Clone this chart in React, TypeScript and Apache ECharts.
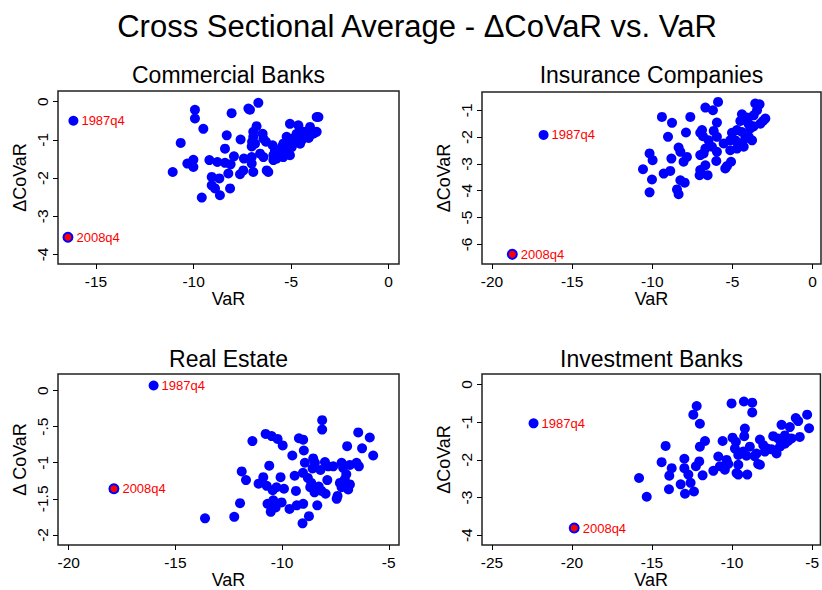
import React, { useEffect, useRef } from "react";
import * as echarts from "echarts";

const FONT = "'Liberation Sans', Arial, Helvetica, sans-serif";

const mainTitle = "Cross Sectional Average - \u0394CoVaR vs. VaR";
const panelTitles = ["Commercial Banks", "Insurance Companies", "Real Estate", "Investment Banks"];
const yNames = ["\u0394CoVaR", "\u0394CoVaR", "\u0394 CoVaR", "\u0394CoVaR"];
const xName = "VaR";
const highlightNames = ["1987q4", "2008q4"];

// [VaR, ΔCoVaR]
const commercialBanks: number[][] = [
  [-9.93, -0.21], [-9.93, -0.44], [-8.05, -0.3], [-7.19, -0.18], [-7.11, -0.21], [-6.68, -0.03],
  [-9.5, -0.71], [-10.66, -1.08], [-8.3, -0.88], [-7.59, -0.99], [-6.77, -0.64], [-6.94, -0.92],
  [-6.46, -0.84], [-6.29, -1.05], [-6.85, -1.1], [-7.02, -1.17], [-8.39, -1.23], [-7.93, -1.43],
  [-7.42, -1.49], [-7.02, -1.45], [-6.59, -1.36], [-6.42, -1.45], [-5.95, -1.14], [-5.83, -1.27],
  [-5.4, -1.1], [-5.06, -0.58], [-4.97, -0.97], [-4.63, -0.62], [-4.72, -0.84], [-4.03, -0.66],
  [-3.69, -0.4], [-3.6, -0.4], [-3.69, -0.79], [-3.86, -0.84], [-4.37, -0.79], [-5.14, -1.05],
  [-4.89, -1.1], [-4.72, -1.01], [-5.23, -1.23], [-5.57, -1.32], [-5.4, -1.45], [-5.74, -1.49],
  [-5.06, -1.4], [-5.91, -1.53], [-6.25, -1.8], [-6.17, -1.84], [-6.94, -1.84], [-7.45, -1.8],
  [-7.62, -1.9], [-8.22, -1.88], [-8.1, -1.64], [-8.39, -1.6], [-8.78, -1.58], [-9.19, -1.53],
  [-10.01, -1.52], [-10.32, -1.62], [-10.01, -1.71], [-11.07, -1.84], [-9.07, -1.97], [-8.68, -2.01],
  [-9.07, -2.19], [-8.9, -2.27], [-8.13, -2.27], [-8.65, -2.45], [-9.58, -2.51], [-7.02, -1.62],
  [-4.54, -1.1], [-4.46, -1.01], [-5.23, -0.92], [-4.97, -1.19], [-5.48, -1.19], [-5.66, -1.4],
  [-5.91, -1.4], [-4.2, -0.88], [-6.94, -0.79], [-6.42, -0.97], [-7.0, -1.05], [-4.1, -0.95]
];
const commercialBanksHi: number[][] = [[-16.16, -0.5], [-16.44, -3.55]];

const insurance: number[][] = [
  [-5.9, -0.69], [-6.69, -0.9], [-6.22, -1.0], [-3.58, -0.75], [-3.31, -0.78], [-9.4, -1.25],
  [-7.63, -1.25], [-8.77, -1.47], [-5.97, -1.46], [-4.41, -1.15], [-4.1, -1.27], [-4.51, -1.4],
  [-3.68, -1.19], [-2.95, -1.31], [-3.26, -1.5], [-3.68, -1.6], [-9.02, -1.99], [-7.9, -1.83],
  [-6.9, -1.74], [-6.84, -1.97], [-6.17, -1.77], [-6.49, -2.12], [-5.97, -1.99], [-5.03, -1.84],
  [-4.72, -1.74], [-4.41, -1.81], [-3.99, -1.99], [-5.14, -2.12], [-5.55, -2.24], [-4.51, -2.24],
  [-3.78, -2.12], [-8.36, -2.39], [-8.25, -2.55], [-7.84, -2.74], [-8.05, -2.92], [-7.01, -2.67],
  [-6.69, -2.43], [-6.28, -2.36], [-5.97, -2.55], [-5.14, -2.49], [-4.72, -2.43], [-4.3, -2.36],
  [-10.17, -2.61], [-9.98, -2.86], [-8.81, -2.8], [-10.58, -3.2], [-9.29, -3.36], [-8.88, -3.26],
  [-10.02, -3.58], [-10.17, -4.06], [-8.25, -3.61], [-7.98, -3.7], [-8.46, -3.95], [-8.36, -4.13],
  [-7.01, -3.23], [-6.69, -3.05], [-6.55, -3.42], [-7.05, -3.42], [-6.01, -2.89], [-5.34, -3.08],
  [-5.09, -2.92], [-5.45, -3.17], [-3.47, -1.0], [-3.89, -1.68], [-4.2, -2.05], [-4.82, -2.12],
  [-7.01, -1.84], [-6.8, -2.61], [-3.1, -1.4], [-4.0, -1.5]
];
const insuranceHi: number[][] = [[-16.78, -1.92], [-18.73, -6.37]];

const realEstate: number[][] = [
  [-8.12, -0.41], [-8.12, -0.54], [-6.43, -0.58], [-5.89, -0.65], [-10.77, -0.6], [-10.49, -0.63],
  [-10.21, -0.67], [-9.97, -0.76], [-11.39, -0.7], [-9.21, -0.66], [-9.01, -0.68], [-8.98, -0.83],
  [-6.95, -0.77], [-6.25, -0.8], [-5.73, -0.9], [-9.52, -0.9], [-8.54, -0.94], [-8.93, -1.0],
  [-8.46, -1.0], [-7.99, -0.99], [-7.6, -1.05], [-7.21, -1.0], [-6.82, -1.03], [-6.51, -1.0],
  [-6.4, -1.05], [-10.6, -1.04], [-8.57, -1.08], [-8.2, -1.1], [-7.84, -1.05], [-7.14, -1.07],
  [-6.99, -1.16], [-7.06, -1.23], [-6.82, -1.3], [-6.9, -1.37], [-7.29, -1.28], [-7.21, -1.34],
  [-11.89, -1.12], [-11.69, -1.24], [-10.88, -1.2], [-10.07, -1.2], [-11.1, -1.29], [-10.72, -1.32],
  [-10.26, -1.34], [-9.91, -1.36], [-10.44, -1.38], [-9.41, -1.18], [-9.02, -1.14], [-8.79, -1.21],
  [-8.63, -1.28], [-8.28, -1.33], [-8.68, -1.34], [-8.48, -1.41], [-8.15, -1.39], [-7.96, -1.43],
  [-7.88, -1.24], [-7.4, -1.46], [-7.44, -1.5], [-9.35, -1.39], [-11.97, -1.56], [-10.68, -1.57],
  [-10.41, -1.52], [-10.02, -1.55], [-10.3, -1.62], [-10.53, -1.68], [-9.65, -1.64], [-9.31, -1.59],
  [-9.01, -1.57], [-8.35, -1.59], [-8.74, -1.74], [-9.04, -1.84], [-12.24, -1.75], [-13.61, -1.77]
];
const realEstateHi: number[][] = [[-16.02, 0.07], [-17.88, -1.36]];

const investmentBanks: number[][] = [
  [-10.03, -0.5], [-9.26, -0.45], [-8.74, -0.48], [-8.74, -0.74], [-12.21, -0.57], [-12.42, -0.8],
  [-12.01, -1.04], [-5.31, -0.8], [-6.02, -0.89], [-5.87, -0.97], [-5.19, -1.16], [-6.91, -1.07],
  [-6.39, -1.13], [-9.2, -1.17], [-9.24, -1.37], [-11.69, -1.5], [-12.01, -1.65], [-14.15, -1.63],
  [-10.59, -1.5], [-9.97, -1.41], [-9.76, -1.52], [-8.26, -1.46], [-7.43, -1.37], [-7.12, -1.43],
  [-6.7, -1.35], [-6.29, -1.43], [-5.77, -1.39], [-8.05, -1.61], [-7.53, -1.72], [-7.01, -1.65],
  [-6.7, -1.57], [-8.89, -1.65], [-9.3, -1.78], [-9.82, -1.7], [-9.61, -1.87], [-9.1, -1.89],
  [-8.47, -1.83], [-7.95, -1.78], [-7.22, -1.83], [-10.86, -1.91], [-10.34, -2.0], [-10.24, -2.11],
  [-10.76, -2.17], [-10.45, -2.26], [-9.61, -2.13], [-9.61, -2.39], [-9.05, -2.39], [-9.72, -2.35],
  [-8.37, -2.11], [-8.26, -2.13], [-11.17, -2.29], [-11.84, -2.41], [-12.05, -2.04], [-12.26, -2.17],
  [-12.98, -1.97], [-12.98, -2.22], [-12.73, -2.39], [-12.59, -2.61], [-12.38, -2.84], [-12.94, -2.9],
  [-13.21, -2.65], [-14.4, -2.06], [-13.77, -2.22], [-13.92, -2.42], [-13.94, -2.78], [-15.81, -2.48],
  [-15.33, -2.98], [-6.5, -1.5], [-7.8, -1.7], [-8.6, -1.9]
];
const investmentBanksHi: number[][] = [[-22.4, -1.03], [-19.86, -3.81]];

const xTicks = [[-15, -10, -5, 0], [-20, -15, -10, -5, 0], [-20, -15, -10, -5], [-25, -20, -15, -10, -5]];
const yTicks = [[-4, -3, -2, -1, 0], [-6, -5, -4, -3, -2, -1], [-2, -1.5, -1, -0.5, 0], [-4, -3, -2, -1, 0]];

const panelData = [commercialBanks, insurance, realEstate, investmentBanks];
const panelHi = [commercialBanksHi, insuranceHi, realEstateHi, investmentBanksHi];

// layout (not data)
const grids = [
  { left: 58, top: 91, width: 341, height: 173 },
  { left: 482, top: 92, width: 339, height: 172 },
  { left: 58, top: 374, width: 341, height: 174 },
  { left: 482, top: 374, width: 339, height: 174 },
];
const xRanges = [[-16.95, 0.53], [-20.62, 0.52], [-20.5, -4.52], [-25.62, -4.48]];
const yRanges = [[-4.25, 0.28], [-6.73, -0.32], [-2.14, 0.23], [-4.26, 0.28]];

function fmt(v: number): string {
  if (Number.isInteger(v)) return String(v);
  const s = String(v);
  return s.replace(/^(-?)0\./, "$1.");
}

export default function App() {
  const ref = useRef<HTMLDivElement>(null);
  useEffect(() => {
    if (!ref.current) return;
    const chart = echarts.init(ref.current, null, { renderer: "svg" });
    const blue = "#0000ff";
    const red = "#ff0000";
    const xAxis: any[] = [];
    const yAxis: any[] = [];
    const series: any[] = [];
    const graphic: any[] = [
      {
        type: "text",
        x: 417,
        y: 26,
        style: { text: mainTitle, font: `31px ${FONT}`, fill: "#000", textAlign: "center", textVerticalAlign: "middle" },
      },
    ];
    const titleY = [75, 75, 359, 359];
    grids.forEach((g, i) => {
      graphic.push({
        type: "text",
        x: g.left + g.width / 2,
        y: titleY[i],
        style: { text: panelTitles[i], font: `23px ${FONT}`, fill: "#000", textAlign: "center", textVerticalAlign: "middle" },
      });
      xAxis.push({
        type: "value",
        gridIndex: i,
        min: xRanges[i][0],
        max: xRanges[i][1],
        name: xName,
        nameLocation: "middle",
        nameGap: 26,
        nameTextStyle: { fontFamily: FONT, fontSize: 18, color: "#000" },
        axisLine: { show: false, onZero: false },
        axisTick: { show: true, length: 5, customValues: xTicks[i], lineStyle: { color: "#000", width: 1 } },
        axisLabel: { customValues: xTicks[i], formatter: (v: number) => fmt(v), fontFamily: FONT, fontSize: 15.5, color: "#000", margin: 9 },
        splitLine: { show: false },
      });
      yAxis.push({
        type: "value",
        gridIndex: i,
        min: yRanges[i][0],
        max: yRanges[i][1],
        name: yNames[i],
        nameLocation: "middle",
        nameGap: 29,
        nameRotate: 90,
        nameTextStyle: { fontFamily: FONT, fontSize: 18, color: "#000" },
        axisLine: { show: false, onZero: false },
        axisTick: { show: true, length: 5, customValues: yTicks[i], lineStyle: { color: "#000", width: 1 } },
        axisLabel: { customValues: yTicks[i], rotate: 90, formatter: (v: number) => fmt(v), fontFamily: FONT, fontSize: 15.5, color: "#000", margin: 8 },
        splitLine: { show: false },
      });
      series.push({
        type: "scatter",
        xAxisIndex: i,
        yAxisIndex: i,
        symbol: "circle",
        symbolSize: 10,
        itemStyle: { color: blue, opacity: 1 },
        data: panelData[i],
        silent: true,
      });
      const hi = panelHi[i];
      series.push({
        type: "scatter",
        xAxisIndex: i,
        yAxisIndex: i,
        symbol: "circle",
        symbolSize: 10,
        itemStyle: { color: blue, opacity: 1 },
        data: [{ name: highlightNames[0], value: hi[0] }],
        label: { show: true, position: "right", distance: 3, formatter: "{b}", color: red, fontFamily: FONT, fontSize: 13 },
        silent: true,
      });
      series.push({
        type: "scatter",
        xAxisIndex: i,
        yAxisIndex: i,
        symbol: "circle",
        symbolSize: 9,
        itemStyle: { color: red, borderColor: blue, borderWidth: 2, opacity: 1 },
        data: [{ name: highlightNames[1], value: hi[1] }],
        label: { show: true, position: "right", distance: 3, formatter: "{b}", color: red, fontFamily: FONT, fontSize: 13 },
        silent: true,
      });
    });
    chart.setOption({
      animation: false,
      backgroundColor: "#fff",
      textStyle: { fontFamily: FONT },
      grid: grids.map((g) => ({ ...g, show: true, borderColor: "#222", borderWidth: 1.5, containLabel: false })),
      xAxis,
      yAxis,
      series,
      graphic,
    });
    return () => chart.dispose();
  }, []);
  return <div ref={ref} style={{ position: "fixed", left: 0, top: 0, width: 822, height: 590, background: "#fff" }} />;
}
